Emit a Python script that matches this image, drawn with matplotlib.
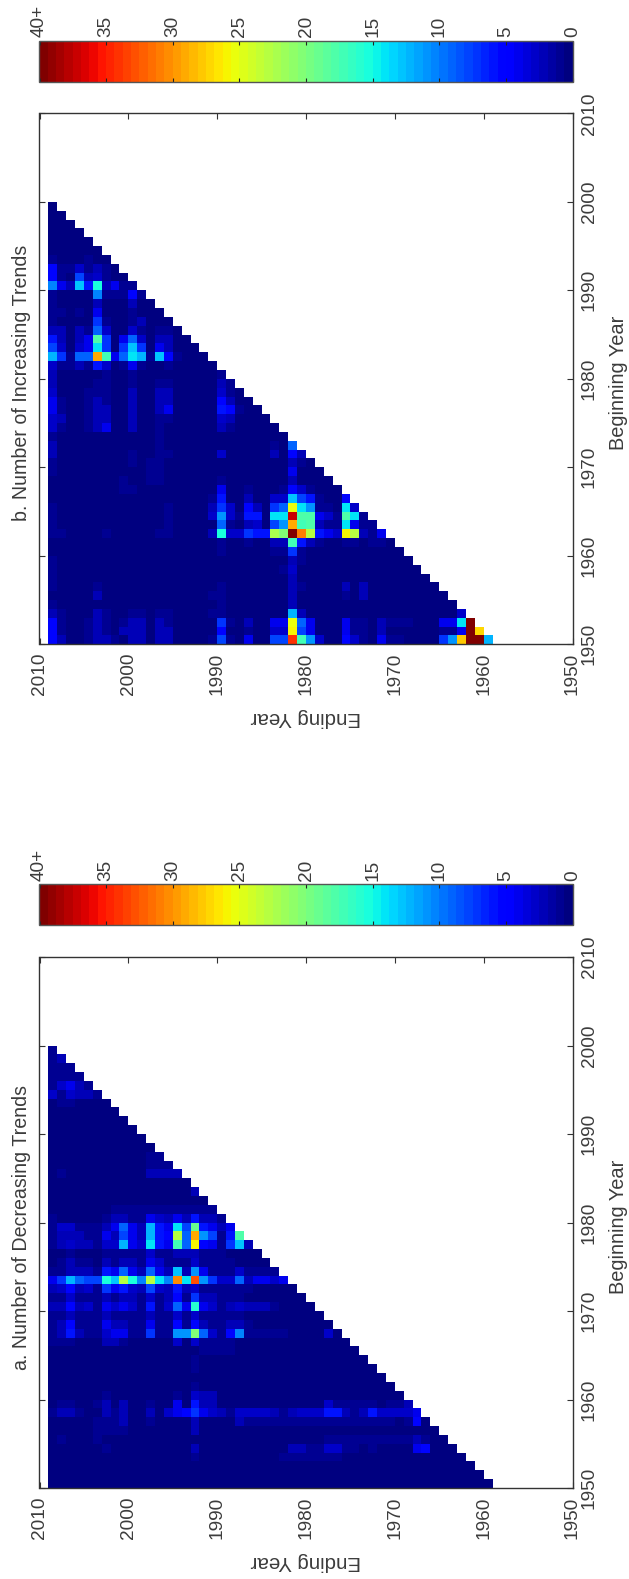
import numpy as np
import matplotlib
matplotlib.use('Agg')
import matplotlib.pyplot as plt
from matplotlib.cm import ScalarMappable
from matplotlib.colors import Normalize

plt.rcParams['font.family'] = ['Liberation Sans', 'DejaVu Sans']

WIDTH, HEIGHT = 629, 1579
TEXT_COLOR = '#3c3c3c'

begin_years = list(range(1999, 1949, -1))   # one row per beginning year, top row first
end_edges = list(range(2009, 1958, -1))     # cell edges, left column first
year_ticks = [1950, 1960, 1970, 1980, 1990, 2000, 2010]
bar_ticks = [0, 5, 10, 15, 20, 25, 30, 35, 40]
bar_labels = ['0', '5', '10', '15', '20', '25', '30', '35', '40+']

# rows, missing values at the end of a row are 0
decreasing = [
    [1],
    [1, 2],
    [1, 1, 1],
    [1, 1, 1, 1],
    [1, 3, 4, 2, 1],
    [3, 1, 3, 2, 2, 1],
    [0, 1, 1],
    [], [], [], [], [],
    [0, 0, 0, 0, 0, 0, 0, 0, 0, 0, 0, 1, 1],
    [0, 0, 0, 0, 0, 0, 0, 0, 0, 0, 0, 1, 1, 1],
    [0, 1, 0, 0, 0, 0, 0, 0, 0, 0, 0, 2, 2, 2, 2],
    [],
    [0, 0, 0, 0, 0, 0, 0, 0, 0, 0, 0, 0, 0, 0, 0, 0, 2],
    [],
    [0, 0, 0, 0, 0, 0, 0, 1, 1, 1, 1, 1, 1, 1, 1, 1, 1, 1, 1],
    [1, 0, 0, 0, 0, 0, 1, 2, 2, 1, 1, 4, 3, 2, 4, 2, 6, 2, 2, 1],
    [1, 3, 3, 1, 1, 1, 2, 4, 9, 4, 2, 12, 6, 4, 14, 8, 19, 6, 4, 2, 4],
    [1, 2, 2, 2, 1, 1, 4, 2, 8, 4, 2, 12, 6, 5, 23, 9, 29, 11, 8, 1, 6, 18],
    [1, 2, 3, 2, 2, 1, 3, 3, 12, 4, 3, 14, 6, 4, 17, 9, 26, 5, 4, 1, 7, 13, 2],
    [0, 0, 1, 0, 0, 0, 1, 1, 1, 1, 1, 3, 1, 1, 2, 2, 2, 1, 1, 1],
    [0, 1, 2, 1, 1, 0, 2, 1, 2, 2, 1, 4, 3, 1, 1, 1, 3, 1, 1, 1, 1],
    [1, 1, 2, 2, 2, 1, 6, 4, 9, 4, 2, 9, 4, 2, 13, 2, 11, 4, 1, 1, 1, 3, 1, 1, 1, 1],
    [4, 7, 12, 9, 8, 8, 15, 13, 23, 15, 10, 23, 14, 10, 30, 14, 33, 11, 7, 3, 3, 9, 2, 4, 4, 3, 4],
    [2, 3, 5, 2, 3, 1, 7, 4, 6, 3, 2, 8, 3, 2, 6, 2, 3, 1, 1, 1, 1, 1, 1],
    [1, 1, 3, 1, 1, 1, 2, 1, 2, 2, 1, 3, 1, 2, 5, 1, 7, 2, 2, 1, 1, 1],
    [2, 2, 5, 2, 3, 1, 4, 3, 4, 3, 1, 6, 1, 3, 9, 4, 16, 4, 3, 1, 2, 3, 2, 2, 2, 1],
    [1, 1, 2, 1, 1, 1, 2, 1, 1, 1, 1, 2, 1, 1, 3, 1, 3, 1, 1, 1, 1, 1],
    [1, 2, 5, 1, 1, 1, 4, 2, 2, 1, 1, 4, 1, 1, 5, 1, 5, 2, 1, 1, 2, 2, 1],
    [1, 2, 6, 2, 1, 1, 3, 4, 4, 1, 1, 7, 1, 1, 11, 11, 20, 9, 3, 1, 5, 10, 1, 1, 1, 1, 1, 0, 0, 0, 0, 3],
    [1, 1, 1, 0, 0, 0, 2, 2, 1, 0, 0, 0, 0, 0, 3, 0, 3, 1, 1, 1, 1],
    [0, 0, 0, 0, 0, 0, 0, 0, 0, 0, 0, 0, 0, 0, 0, 0, 0, 1, 1, 1, 1],
    [0, 0, 0, 0, 0, 0, 0, 0, 0, 0, 0, 0, 0, 0, 0, 0, 1],
    [0, 0, 0, 0, 0, 0, 0, 0, 0, 0, 0, 0, 0, 0, 0, 0, 1],
    [],
    [0, 0, 0, 0, 0, 0, 0, 0, 0, 0, 0, 0, 0, 0, 0, 0, 1],
    [0, 0, 0, 0, 0, 0, 1, 0, 0, 0, 0, 0, 0, 0, 1, 0, 3, 2, 2],
    [0, 1, 1, 0, 0, 1, 2, 0, 2, 0, 0, 1, 0, 0, 4, 0, 6, 2, 2, 0, 0, 0, 0, 0, 0, 0, 0, 0, 0, 0, 0,
     3, 1, 1, 1, 1, 1, 0, 1, 1, 2],
    [1, 2, 2, 1, 0, 0, 2, 1, 2, 0, 0, 2, 0, 3, 4, 5, 7, 4, 3, 2, 1, 3, 3, 3, 3, 2, 1, 2, 3, 3, 3,
     6, 6, 2, 1, 2, 6, 3, 3, 3, 3, 4],
    [0, 0, 0, 0, 0, 1, 1, 1, 2, 0, 0, 1, 0, 0, 0, 0, 2, 0, 0, 0, 0, 2, 1, 1, 1, 1, 1, 1, 1, 1, 1,
     1, 1, 1, 1, 1, 1, 1, 1, 0, 1, 5],
    [0, 0, 0, 0, 0, 1, 1, 1, 1, 0, 0, 0, 0, 0, 0, 0, 2],
    [0, 1, 0, 0, 0, 1, 0, 0, 0, 0, 0, 0, 0, 0, 0, 0, 0, 0, 0, 0, 0, 0, 0, 0, 0, 0, 0, 0, 0, 0, 0,
     1, 1, 1, 1, 1, 1, 1, 1, 1, 1, 2, 1],
    [0, 0, 0, 0, 0, 0, 1, 0, 0, 0, 0, 0, 0, 0, 0, 0, 2, 0, 0, 0, 0, 0, 0, 0, 0, 0, 0, 2, 2, 1, 1,
     3, 3, 1, 1, 0, 1, 0, 0, 0, 0, 4, 5],
    [0, 0, 0, 0, 0, 0, 0, 0, 0, 0, 0, 0, 0, 0, 0, 0, 1, 0, 0, 0, 0, 0, 0, 0, 0, 0, 1, 1, 1, 1, 1, 1, 1],
    [], [], [],
]

increasing = [
    [], [], [], [], [], [],
    [1, 0, 0, 0, 1],
    [5, 1, 1, 3, 1, 2, 1],
    [5, 1, 0, 8, 2, 3, 1],
    [10, 4, 2, 13, 6, 15, 2, 4, 1, 1],
    [1, 0, 0, 0, 0, 10, 1, 1, 1, 5, 1],
    [1, 0, 0, 0, 0, 2, 0, 0, 0, 2],
    [1, 1, 0, 1, 0, 4, 0, 0, 0, 1],
    [1, 0, 0, 0, 0, 7, 1, 0, 0, 1, 2],
    [2, 2, 0, 2, 1, 9, 3, 0, 0, 3, 1, 0, 1, 1],
    [6, 2, 0, 2, 4, 18, 7, 0, 4, 9, 3, 0, 2, 2],
    [8, 3, 0, 3, 4, 14, 7, 0, 7, 13, 7, 0, 4, 2],
    [12, 7, 1, 9, 9, 29, 17, 4, 9, 14, 12, 1, 13, 5, 1],
    [3, 1, 1, 2, 1, 6, 3, 0, 1, 4, 1, 0, 0, 1],
    [2, 0, 0, 0, 0, 0, 1, 0, 0, 1, 0, 0, 0, 0, 0, 0, 0, 0, 0, 1],
    [2, 0, 0, 0, 0, 1, 1, 0, 0, 1, 0, 0, 1, 1, 0, 0, 0, 0, 0, 2, 1],
    [3, 0, 0, 0, 1, 1, 1, 0, 0, 2, 0, 0, 2, 2, 0, 0, 0, 0, 0, 3, 1],
    [4, 1, 0, 0, 1, 2, 1, 0, 0, 2, 0, 0, 2, 2, 0, 0, 0, 0, 0, 5, 2],
    [4, 1, 0, 0, 1, 2, 2, 0, 0, 2, 0, 0, 2, 4, 0, 0, 0, 0, 0, 6, 5, 1],
    [3, 2, 0, 0, 1, 2, 2, 0, 0, 2, 0, 0, 1, 1, 0, 0, 0, 0, 0, 3, 2],
    [3, 1, 0, 0, 1, 2, 4, 0, 0, 2, 0, 0, 1, 0, 0, 0, 0, 0, 0, 2, 1],
    [1, 0, 0, 0, 0, 0, 0, 0, 0, 0, 0, 0, 1],
    [2, 0, 0, 0, 0, 0, 0, 0, 0, 0, 0, 0, 1, 0, 0, 0, 0, 0, 0, 0, 0, 0, 0, 0, 0, 1, 0, 9],
    [2, 0, 0, 0, 0, 0, 0, 0, 0, 1, 0, 0, 1, 1, 0, 0, 0, 0, 0, 3, 0, 0, 0, 0, 0, 2, 0, 5, 2],
    [1, 0, 0, 0, 0, 0, 0, 0, 0, 1, 0, 1, 1, 0, 0, 0, 0, 0, 0, 0, 0, 0, 0, 0, 0, 0, 0, 2, 1],
    [1, 0, 0, 0, 0, 0, 0, 0, 0, 0, 0, 1, 1, 0, 0, 0, 0, 0, 0, 0, 0, 0, 0, 0, 0, 0, 0, 4],
    [0, 0, 0, 0, 0, 0, 0, 0, 1, 0, 0, 1, 1, 0, 0, 0, 0, 0, 0, 1, 0, 0, 0, 0, 0, 0, 0, 2],
    [0, 0, 0, 0, 0, 0, 0, 0, 1, 1, 0, 0, 0, 0, 0, 0, 0, 0, 0, 4, 0, 0, 1, 0, 0, 0, 1, 5, 3, 1],
    [0, 0, 0, 0, 0, 0, 0, 0, 0, 0, 0, 0, 0, 0, 0, 0, 0, 0, 1, 6, 0, 0, 2, 0, 0, 3, 3, 13, 8, 6, 1, 0, 0, 5],
    [1, 0, 0, 0, 0, 0, 0, 0, 0, 0, 0, 0, 0, 1, 0, 0, 0, 0, 2, 7, 3, 0, 5, 2, 0, 7, 9, 25, 14, 11, 1, 1, 0, 14, 3],
    [1, 0, 0, 0, 0, 0, 0, 0, 0, 0, 0, 0, 0, 1, 0, 0, 0, 0, 3, 11, 3, 1, 6, 6, 0, 14, 14, 37, 18, 18, 4, 3, 1, 18, 14, 1],
    [1, 0, 0, 0, 0, 0, 0, 0, 0, 0, 0, 0, 0, 1, 0, 0, 0, 0, 0, 9, 1, 0, 2, 3, 0, 8, 11, 29, 17, 18, 2, 1, 1, 14, 4, 1, 1],
    [1, 1, 0, 0, 0, 0, 1, 0, 0, 0, 0, 0, 1, 1, 0, 0, 0, 0, 2, 15, 3, 3, 7, 6, 6, 22, 20, 40, 31, 23, 6, 4, 3, 26, 23, 2, 1, 4],
    [0, 0, 0, 0, 0, 0, 0, 0, 0, 0, 0, 0, 0, 0, 0, 0, 0, 0, 0, 1, 0, 0, 1, 0, 0, 2, 2, 17, 6, 2, 1, 0, 0, 1, 1, 0, 1, 1],
    [0, 0, 0, 0, 0, 0, 0, 0, 0, 0, 0, 0, 0, 0, 0, 0, 0, 0, 0, 1, 0, 0, 0, 0, 0, 1, 1, 7, 1],
    [1, 0, 0, 0, 0, 0, 0, 0, 0, 0, 0, 0, 0, 0, 0, 0, 0, 0, 0, 0, 0, 0, 0, 0, 0, 0, 0, 2, 1],
    [1, 0, 0, 0, 0, 0, 0, 0, 0, 0, 0, 0, 0, 0, 0, 0, 0, 0, 0, 0, 0, 0, 0, 0, 0, 0, 1, 3],
    [1, 0, 0, 0, 0, 0, 0, 0, 0, 0, 0, 0, 0, 0, 0, 0, 0, 0, 0, 0, 0, 0, 0, 0, 0, 0, 0, 2],
    [1, 0, 0, 0, 0, 1, 0, 0, 0, 0, 0, 0, 0, 0, 0, 0, 0, 0, 0, 1, 0, 0, 0, 0, 0, 0, 0, 2, 1, 0, 0, 0, 0, 2, 0, 2],
    [0, 0, 0, 0, 0, 2, 0, 0, 0, 0, 0, 0, 0, 0, 0, 0, 0, 0, 1, 1, 0, 0, 0, 0, 0, 0, 0, 2, 0, 0, 0, 0, 0, 1, 0, 2],
    [1, 0, 0, 0, 0, 0, 0, 0, 0, 0, 0, 0, 0, 0, 0, 0, 0, 0, 0, 1, 0, 0, 0, 0, 0, 0, 0, 2],
    [2, 1, 0, 0, 0, 2, 1, 0, 0, 1, 1, 0, 1, 1, 0, 0, 0, 0, 1, 1, 0, 0, 0, 0, 0, 0, 0, 12, 2, 0, 0, 0, 0, 0, 0, 0, 0, 0, 0, 0, 0, 0, 0, 0, 0, 0, 3],
    [5, 1, 0, 0, 1, 2, 1, 0, 1, 2, 2, 0, 2, 1, 0, 0, 0, 0, 0, 7, 1, 0, 2, 0, 0, 4, 4, 25, 9, 4, 0, 0, 0, 4, 1, 1, 0, 2, 1, 1, 1, 0, 0, 0, 4, 4, 14, 40],
    [5, 1, 0, 0, 1, 2, 1, 0, 2, 2, 2, 0, 2, 2, 0, 0, 0, 0, 0, 5, 0, 0, 1, 0, 0, 3, 3, 26, 8, 4, 0, 0, 0, 4, 1, 1, 0, 2, 0, 0, 0, 0, 0, 0, 1, 1, 4, 40, 27],
    [5, 2, 0, 0, 1, 2, 2, 1, 0, 2, 2, 0, 2, 2, 0, 0, 0, 0, 1, 8, 1, 0, 4, 0, 0, 8, 8, 34, 17, 11, 3, 0, 0, 5, 3, 1, 0, 4, 1, 1, 0, 0, 0, 0, 7, 11, 28, 40, 40, 12],
]


def to_matrix(rows):
    # the cells above the stair line stay empty
    n = len(begin_years)
    z = np.full((n, n), np.nan)
    for r, row in enumerate(rows):
        z[r, :r + 1] = (row + [0] * n)[:r + 1]
    return z


def add_axes_px(left, top, right, bottom):
    return fig.add_axes([left / WIDTH, 1 - bottom / HEIGHT, (right - left) / WIDTH, (bottom - top) / HEIGHT])


def draw_panel(rows, top, title):
    bottom = top + 531
    ax = add_axes_px(39.5, top, 572.5, bottom)
    y_edges = [y + 1 for y in begin_years] + [begin_years[-1]]
    ax.pcolormesh(end_edges, y_edges, to_matrix(rows), cmap=cmap, vmin=0, vmax=40, zorder=2)
    ax.set_xlim(2010, 1950)
    ax.set_ylim(1950, 2010)
    ax.set_xticks(year_ticks)
    ax.set_yticks(year_ticks)
    ax.tick_params(direction='in', length=4.5, width=0.8, color='#333333', labelcolor=TEXT_COLOR,
                   labelsize=13.7, top=True, right=True, left=True, bottom=True,
                   labelleft=False, labelright=True, pad=6)
    ax.tick_params(axis='x', labelrotation=90)
    ax.tick_params(axis='y', labelrotation=90)
    for lab in ax.get_yticklabels():
        lab.set_va('center')
    for s in ax.spines.values():
        s.set_color('#333333')
        s.set_linewidth(1.0)
    ax.text(21.5 / WIDTH, 1 - (top + 270) / HEIGHT, title, transform=fig.transFigure, rotation=90,
            ha='center', va='center', fontsize=14.1, color=TEXT_COLOR)
    ax.text(618 / WIDTH, 1 - (top + 270) / HEIGHT, 'Beginning Year', transform=fig.transFigure, rotation=90,
            ha='center', va='center', fontsize=14.4, color=TEXT_COLOR)
    ax.text(306 / WIDTH, 1 - (bottom + 73.5) / HEIGHT, 'Ending Year', transform=fig.transFigure, rotation=180,
            ha='center', va='center', fontsize=14.8, color=TEXT_COLOR)


def draw_bar(top, bottom):
    cax = add_axes_px(39.5, top, 572.5, bottom)
    cb = fig.colorbar(ScalarMappable(Normalize(0, 40), cmap), cax=cax, orientation='horizontal')
    cax.set_xlim(40, 0)
    cb.set_ticks(bar_ticks, labels=bar_labels)
    cax.tick_params(direction='in', length=3, width=0.8, color='#222222', labelcolor=TEXT_COLOR,
                    labelsize=13.7, top=True, bottom=True, labeltop=True, labelbottom=False,
                    labelrotation=90, pad=2.5)
    cb.outline.set_edgecolor('#555555')
    cb.outline.set_linewidth(1.0)


fig = plt.figure(figsize=(WIDTH / 100, HEIGHT / 100), dpi=100)
cmap = plt.get_cmap('jet', 64)

draw_panel(increasing, 113.3, 'b. Number of Increasing Trends')
draw_panel(decreasing, 957, 'a. Number of Decreasing Trends')
draw_bar(40.7, 81.7)
draw_bar(884, 925)

fig.savefig('out.png', dpi=100)
